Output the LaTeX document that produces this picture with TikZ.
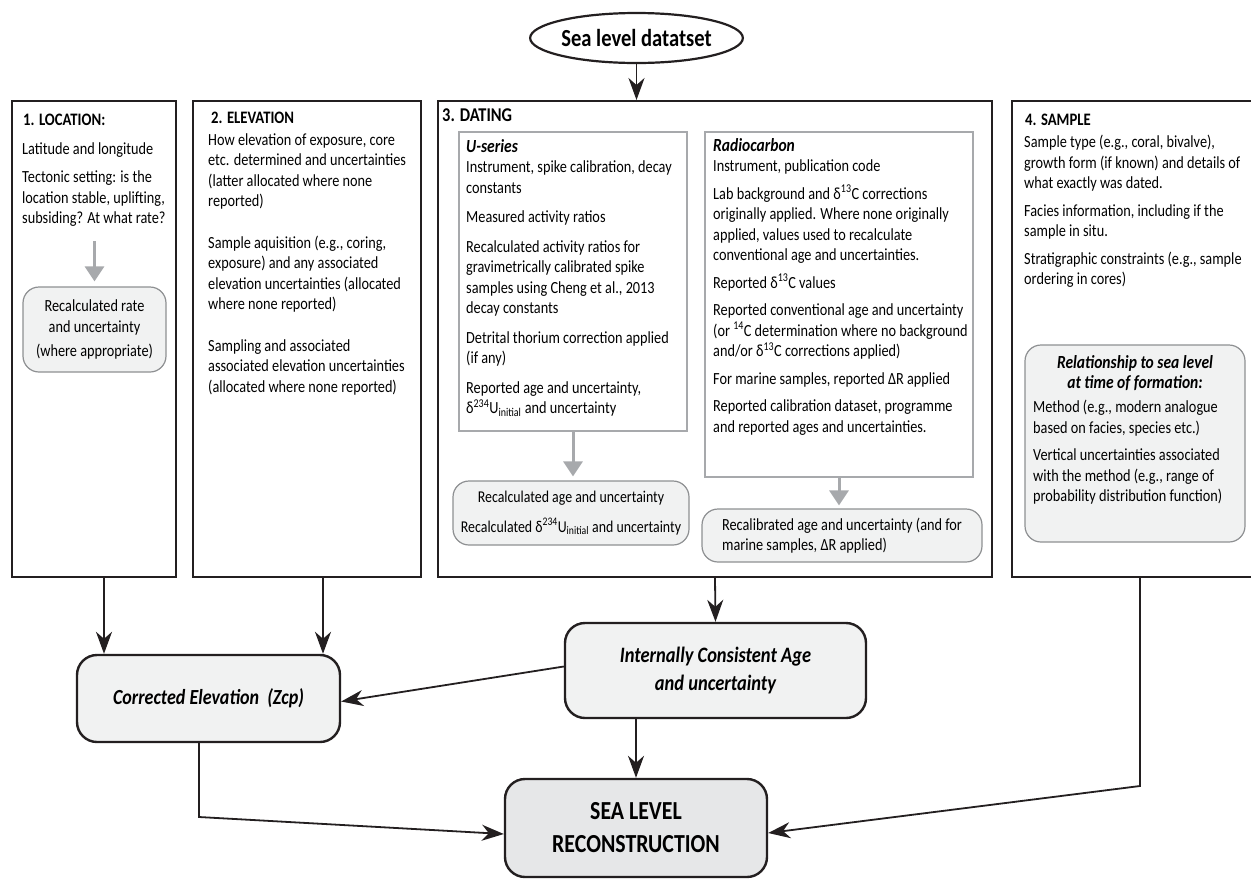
\documentclass[tikz,border=0pt]{standalone}
\usepackage{fontspec}
\setmainfont{Carlito}[FakeStretch=0.84]
\usepackage{tikz}
\usetikzlibrary{arrows.meta, shapes.geometric}

\definecolor{ink}{HTML}{231F20}
\definecolor{boxfill}{HTML}{F1F2F2}
\definecolor{slrfill}{HTML}{E6E7E8}
\definecolor{framegray}{HTML}{A7A9AC}

\begin{document}
\begin{tikzpicture}[x=1pt, y=-1pt,
  mainbox/.style={draw=ink, line width=2pt, inner sep=0pt},
  subbox/.style={draw=framegray, line width=1.2pt, inner sep=0pt},
  resbox/.style={draw=framegray!85!black, fill=boxfill, line width=1.2pt, rounded corners=16pt, inner sep=0pt, font=\fontsize{17}{20.5}\selectfont},
  flowbox/.style={draw=ink, fill=boxfill, line width=2.4pt, rounded corners=20pt, inner sep=0pt, align=center},
  txt/.style={font=\fontsize{17}{20.5}\selectfont, align=left, anchor=north west, inner sep=0pt},
  boxhead/.style={font=\fontsize{17.5}{20.5}\selectfont\bfseries, anchor=north west, inner sep=0pt},
  link/.style={draw=ink, line width=1.8pt, -{Stealth[length=22pt, width=16pt, inset=7pt]}},
  greyarrow/.style={draw=framegray, line width=3pt, -{Triangle[length=15pt, width=19pt]}},
]
\useasboundingbox (0,0) rectangle (1251,879);

% Dataset
\node[ellipse, draw=ink, line width=2.2pt, minimum width=203pt, minimum height=50pt, inner sep=0pt,
  font=\fontsize{24.5}{28}\selectfont\bfseries] (dataset) at (636.5,38) {Sea level datatset};

% Column frames
\node[mainbox, minimum width=164pt, minimum height=476pt] (loc) at (94,339) {};
\node[mainbox, minimum width=228pt, minimum height=476pt] (elev) at (307,339) {};
\node[mainbox, minimum width=554pt, minimum height=476pt] (dating) at (715,339) {};
\node[mainbox, minimum width=250pt, minimum height=476pt] (samp) at (1137,339) {};

% 1. Location
\node[boxhead] (loctitle) at (23,114) {1. LOCATION:};
\node[txt] (loctext) at (22,142) {Latitude and longitude\\[8pt]
  Tectonic setting: is the\\ location stable, uplifting,\\ subsiding? At what rate?};
\node[resbox, minimum width=143pt, minimum height=85pt, align=center] (locres) at (94.5,329.5)
  {Recalculated rate\\ and uncertainty\\[4pt] (where appropriate)};
\draw[greyarrow] ([yshift=45pt]locres.north) -- ([yshift=5pt]locres.north);

% 2. Elevation
\node[boxhead] (elevtitle) at (211,112) {2. ELEVATION};
\node[txt] (elevtext) at (208,133) {How elevation of exposure, core\\ etc. determined and uncertainties\\
  (latter allocated where none\\ reported)\\[21pt]
  Sample aquisition (e.g., coring,\\ exposure) and any associated\\
  elevation uncertainties (allocated\\ where none reported)\\[21pt]
  Sampling and associated\\ associated elevation uncertainties\\ (allocated where none reported)};

% 3. Dating
\node[boxhead, font=\fontsize{19.5}{22}\selectfont\bfseries] (dattitle) at (442,109) {3. DATING};
\node[subbox, minimum width=228pt, minimum height=299pt] (useries) at (573,281.5) {};
\node[subbox, minimum width=268pt, minimum height=345pt] (radio) at (839,304.5) {};
\node[txt] (ustext) at (466,139) {{\fontsize{18.5}{20.5}\selectfont\textbf{\textit{U-series}}}\\
  Instrument, spike calibration, decay\\ constants\\[9pt]
  Measured activity ratios\\[9pt]
  Recalculated activity ratios for\\ gravimetrically calibrated spike\\
  samples using Cheng et al., 2013\\ decay constants\\[9pt]
  Detrital thorium correction applied\\ (if any)\\[9pt]
  Reported age and uncertainty,\\ δ\textsuperscript{234}U\textsubscript{initial} and uncertainty};
\node[txt] (rctext) at (713,138) {{\fontsize{18.5}{20.5}\selectfont\textbf{\textit{Radiocarbon}}}\\
  Instrument, publication code\\[7pt]
  Lab background and δ\textsuperscript{13}C corrections\\ originally applied. Where none originally\\
  applied, values used to recalculate\\ conventional age and uncertainties.\\[7pt]
  Reported δ\textsuperscript{13}C values\\[7pt]
  Reported conventional age and uncertainty\\ (or \textsuperscript{14}C determination where no background\\
  and/or δ\textsuperscript{13}C corrections applied)\\[7pt]
  For marine samples, reported ΔR applied\\[7pt]
  Reported calibration dataset, programme\\ and reported ages and uncertainties.};
\node[resbox, minimum width=236pt, minimum height=64pt, align=center, font=\fontsize{16.5}{20.5}\selectfont] (ures) at (571,513)
  {Recalculated age and uncertainty\\[9pt] Recalculated δ\textsuperscript{234}U\textsubscript{initial} and uncertainty};
\node[resbox, minimum width=280pt, minimum height=53pt, align=left] (rcres) at (842,535.5)
  {Recalibrated age and uncertainty (and for\\ marine samples, ΔR applied)};
\draw[greyarrow] (useries.south) -- ([yshift=4pt]useries.south |- ures.north);
\draw[greyarrow] (radio.south) -- ([yshift=3pt]radio.south |- rcres.north);

% 4. Sample
\node[boxhead] (samptitle) at (1025,114) {4. SAMPLE};
\node[txt] (samptext) at (1024,135) {Sample type (e.g., coral, bivalve),\\
  growth form (if known) and details of\\ what exactly was dated.\\[7pt]
  Facies information, including if the\\ sample in situ.\\[7pt]
  Stratigraphic constraints (e.g., sample\\ ordering in cores)};
\node[resbox, minimum width=220pt, minimum height=197pt] (sampres) at (1135,443.5) {};
\node[txt, anchor=north, align=center, font=\fontsize{18.5}{20.5}\selectfont\bfseries\itshape] (relhead) at (1135,355)
  {Relationship to sea level\\ at time of formation:};
\node[txt] (relbody) at (1033,400) {Method (e.g., modern analogue\\ based on facies, species etc.)\\[7pt]
  Vertical uncertainties associated\\ with the method (e.g., range of\\ probability distribution function)};

% Results
\node[flowbox, minimum width=263pt, minimum height=87pt, font=\fontsize{21.5}{26}\selectfont\bfseries\itshape] (corrz) at (208.5,698.5)
  {Corrected Elevation\ \ (Zcp)};
\node[flowbox, minimum width=301pt, minimum height=95pt, font=\fontsize{22}{28}\selectfont\bfseries\itshape] (icage) at (715.5,670.5)
  {Internally Consistent Age\\ and uncertainty};
\node[flowbox, fill=slrfill, minimum width=262pt, minimum height=98pt, font=\fontsize{26}{33}\selectfont\bfseries] (slr) at (636,828)
  {SEA LEVEL\\ RECONSTRUCTION};

% Connectors
\draw[link] (dataset.south) -- (dataset.south |- dating.north);
\draw[link] ([xshift=10pt]loc.south) -- ([xshift=10pt]loc.south |- corrz.north);
\draw[link] ([xshift=16pt]elev.south) -- ([xshift=16pt]elev.south |- corrz.north);
\draw[link] (dating.south) -- (icage.north);
\draw[link] ([yshift=4pt]icage.west) -- ([yshift=-3pt]corrz.east);
\draw[link] (icage.south -| slr.north) -- (slr.north);
\coordinate (bendl) at (199,817);
\draw[link] (corrz.south -| bendl) -- (bendl) -- ([yshift=-6pt]slr.west);
\coordinate (bendr) at (1140,786);
\draw[link] (samp.south -| bendr) -- (bendr) -- ([yshift=-5pt]slr.east);

\end{tikzpicture}
\end{document}
